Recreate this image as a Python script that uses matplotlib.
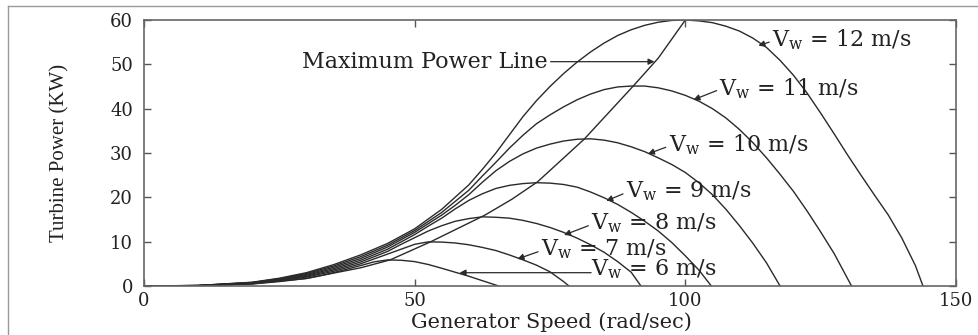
import matplotlib
matplotlib.use("Agg")
import matplotlib.pyplot as plt
from matplotlib.lines import Line2D

plt.rcParams['font.family'] = ['DejaVu Serif']
plt.rcParams['mathtext.fontset'] = 'dejavuserif'

# generator speed (rad/sec) and turbine power (KW)
speed_12 = [0, 10, 20, 25, 30, 35, 40, 45, 50, 55, 60, 62.5, 65, 67.5, 70, 72.5, 75, 77.5, 80,
            82.5, 85, 87.5, 90, 92.5, 95, 97.5, 100, 102.5, 105, 107.5, 110, 112.5, 115, 117.5,
            120, 122.5, 125, 127.5, 130, 132.5, 135, 137.5, 140, 142.5, 143.9]
power_12 = [0, 0.12, 0.85, 1.75, 3.0, 4.8, 7.0, 9.6, 12.9, 17.3, 22.8, 26.3, 30.0, 34.1, 38.2,
            41.8, 45.0, 47.9, 50.5, 52.8, 54.8, 56.5, 57.8, 58.8, 59.5, 59.9, 60.0, 59.8, 59.4,
            58.6, 57.5, 55.9, 53.8, 50.9, 47.5, 43.5, 39.0, 34.3, 29.5, 24.9, 20.4, 16.0, 10.8,
            4.6, 0]

speed_11 = [0, 10, 20, 25, 30, 35, 40, 45, 50, 55, 60, 62.5, 65, 67.5, 70, 72.5, 75, 77.5, 80,
            82.5, 85, 87.5, 90, 92.5, 95, 97.5, 100, 102.5, 105, 107.5, 110, 112.5, 115, 117.5,
            120, 122.5, 125, 127.5, 130.7]
power_11 = [0, 0.11, 0.8, 1.65, 2.8, 4.5, 6.6, 9.2, 12.5, 16.6, 21.6, 24.8, 27.9, 31.1, 34.0,
            36.6, 38.6, 40.4, 42.0, 43.3, 44.3, 44.9, 45.1, 45.1, 44.7, 44.0, 43.0, 41.7, 40.0,
            37.9, 35.3, 32.3, 28.9, 25.2, 21.3, 16.9, 12.2, 7.3, 0]

speed_10 = [0, 10, 20, 25, 30, 35, 40, 45, 50, 55, 57.5, 60, 62.5, 65, 67.5, 70, 72.5, 75, 77.5,
            80, 82.5, 85, 87.5, 90, 92.5, 95, 97.5, 100, 102.5, 105, 107.5, 110, 112.5, 115, 117.5]
power_10 = [0, 0.1, 0.75, 1.55, 2.6, 4.2, 6.2, 8.8, 12.1, 16.0, 18.2, 20.6, 23.4, 26.0, 28.1,
            29.8, 31.1, 32.0, 32.7, 33.1, 33.2, 32.9, 32.3, 31.4, 30.3, 28.9, 27.4, 25.6, 23.3,
            20.6, 17.3, 13.6, 9.6, 5.2, 0]

speed_9 = [0, 10, 20, 25, 30, 35, 40, 45, 50, 52.5, 55, 57.5, 60, 62.5, 65, 67.5, 70, 72.5, 75,
           77.5, 80, 82.5, 85, 87.5, 90, 92.5, 95, 97.5, 100, 102.5, 104.8]
power_9 = [0, 0.09, 0.7, 1.45, 2.4, 3.9, 5.8, 8.3, 11.6, 13.5, 15.3, 17.4, 19.3, 20.8, 22.0,
           22.7, 23.1, 23.3, 23.2, 22.9, 22.3, 21.2, 19.9, 18.4, 16.6, 14.6, 12.4, 9.8, 6.8,
           3.6, 0]

speed_8 = [0, 10, 20, 25, 30, 35, 40, 45, 47.5, 50, 52.5, 55, 57.5, 60, 62.5, 65, 67.5, 70,
           72.5, 75, 77.5, 80, 82.5, 85, 87.5, 90, 91.8]
power_8 = [0, 0.08, 0.65, 1.35, 2.2, 3.6, 5.4, 7.8, 9.4, 10.9, 12.4, 13.6, 14.6, 15.2, 15.6,
           15.5, 15.3, 14.8, 14.1, 13.2, 12.1, 10.8, 9.3, 7.6, 5.5, 3.1, 0]

speed_7 = [0, 10, 20, 25, 30, 35, 40, 42.5, 45, 47.5, 50, 52.5, 55, 57.5, 60, 62.5, 65, 67.5,
           70, 72.5, 75, 77.5, 78.5]
power_7 = [0, 0.07, 0.55, 1.2, 2.0, 3.3, 5.0, 6.1, 7.2, 8.3, 9.4, 9.95, 9.9, 9.7, 9.3, 8.7,
           8.0, 7.0, 5.9, 4.7, 3.2, 1.0, 0]

speed_6 = [0, 10, 20, 25, 30, 32.5, 35, 37.5, 40, 42.5, 45, 47.5, 50, 52.5, 55, 57.5, 60, 62.5,
           65.5]
power_6 = [0, 0.06, 0.45, 1.0, 1.7, 2.3, 3.0, 3.8, 4.6, 5.45, 5.88, 5.8, 5.5, 4.85, 4.0, 3.1,
           2.2, 1.2, 0]

speed_mpl = [0, 10, 20, 30, 40, 45.5, 53, 63, 68, 72.7, 81.3, 90.3, 95, 100]
power_mpl = [0, 0.06, 0.5, 1.7, 4.1, 5.9, 10.0, 16.0, 19.6, 23.5, 33.1, 45.0, 51.4, 60.0]

curves = [(speed_12, power_12), (speed_11, power_11), (speed_10, power_10),
          (speed_9, power_9), (speed_8, power_8), (speed_7, power_7), (speed_6, power_6)]

# label text position and arrow tip for each wind speed
wind_labels = ['12', '11', '10', '9', '8', '7', '6']
label_xy = [(116, 55.5), (106.3, 44.6), (96.9, 31.8), (89, 21.3), (82.6, 14.1), (73.3, 8.2), (82.6, 3.9)]
tip_xy = [(113.5, 54.2), (101.5, 42.0), (93.1, 29.8), (85.4, 19.2), (77.6, 11.5), (69.0, 6.1), (58.3, 3.0)]

fig = plt.figure(figsize=(9.79, 3.35), dpi=100)
ax = fig.add_axes([0.1471, 0.1463, 0.8294, 0.7940])

line_col = '#2a2a2a'
for s, p in curves:
    ax.plot(s, p, color=line_col, lw=1.0)
ax.plot(speed_mpl, power_mpl, color=line_col, lw=1.0)

ax.set_xlim(0, 150)
ax.set_ylim(0, 60)
ax.set_xticks([0, 50, 100, 150])
ax.set_yticks(range(0, 61, 10))
ax.tick_params(direction='in', top=True, right=True, length=5, width=1,
               color='#555555', labelsize=13, labelcolor='#222222')
ax.tick_params(axis='x', pad=4)
ax.tick_params(axis='y', pad=8)
for sp in ax.spines.values():
    sp.set_color('#666666')
    sp.set_linewidth(1.2)

ax.set_xlabel('Generator Speed (rad/sec)', fontsize=15, color='#222222')
ax.xaxis.set_label_coords(0.502, -0.099)
ax.set_ylabel('Turbine Power (KW)', fontsize=15, family='Liberation Serif', color='#222222')
ax.yaxis.set_label_coords(-0.092, 0.5)

arrow = dict(arrowstyle='-|>', color=line_col, lw=0.9, mutation_scale=9,
             shrinkA=0, shrinkB=0)

ax.annotate('Maximum Power Line', xy=(94.3, 50.6), xytext=(74.6, 50.6),
            ha='right', va='center', fontsize=16, color='#222222',
            arrowprops=dict(arrow, relpos=(1, 0.5)))

for lab, (tx, ty), (px, py) in zip(wind_labels, label_xy, tip_xy):
    txt = r'$\mathrm{V_w}$ = ' + lab + ' m/s'
    if lab == '6':
        ax.text(tx, ty, txt, ha='left', va='center', fontsize=16, color='#222222')
        ax.annotate('', xy=(px, py), xytext=(tx, py), arrowprops=arrow)
    else:
        ax.annotate(txt, xy=(px, py), xytext=(tx, ty), ha='left', va='center',
                    fontsize=16, color='#222222',
                    arrowprops=dict(arrow, relpos=(0, 0.45)))

# thin page frame
fig.add_artist(Line2D([8 / 979, 1], [1 - 6 / 335, 1 - 6 / 335], color='#999999', lw=1))
fig.add_artist(Line2D([8 / 979, 8 / 979], [0, 1 - 6 / 335], color='#999999', lw=1))

fig.savefig('out.png', dpi=100)
